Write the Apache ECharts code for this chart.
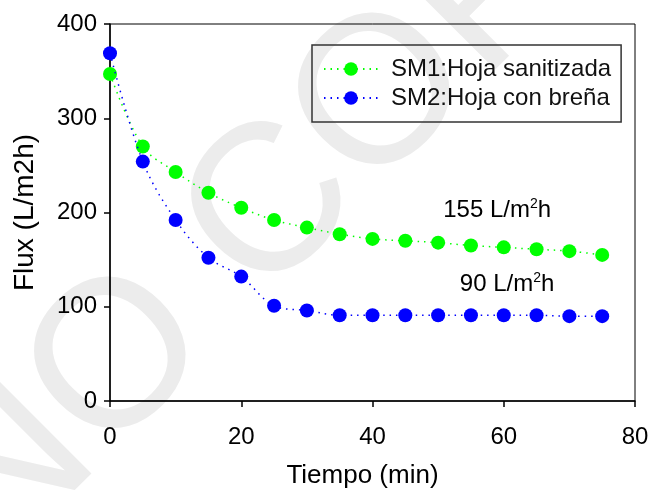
<!DOCTYPE html>
<html>
<head>
<meta charset="utf-8">
<script src="https://cdn.jsdelivr.net/npm/echarts@6/dist/echarts.min.js"></script>
<style>
  html, body { margin: 0; padding: 0; background: #fff; }
  #chart { width: 655px; height: 494px; }
</style>
</head>
<body>
<div id="chart"></div>
<script>
// Flux decline over time for two membrane leaf preparations
const tiempo = [0, 5, 10, 15, 20, 25, 30, 35, 40, 45, 50, 55, 60, 65, 70, 75];
const sm1 = [347, 270, 243, 221, 205, 192, 184, 177, 172, 170, 168, 165, 163, 161, 159, 155];
const sm2 = [369, 254, 192, 152, 132, 101, 96, 91, 91, 91, 91, 91, 91, 91, 90, 90];
const seriesNames = ['SM1:Hoja sanitizada', 'SM2:Hoja con breña'];
const xTicks = { min: 0, max: 80, interval: 20 };
const yTicks = { min: 0, max: 400, interval: 100 };
// steady-state flux notes: [x, y, value]
const plateauNotes = [[59, 202, 155], [60.5, 124, 90]];

const FONT = 'Liberation Sans, Arial, sans-serif';

function pairs(xs, ys) { return xs.map((x, i) => [x, ys[i]]); }

function noteLabel(v) {
  return {
    show: true,
    position: 'inside',
    formatter: '{a|' + v + ' L/m}{s|2}{a|h}',
    rich: {
      a: { fontFamily: FONT, fontSize: 24, color: '#000' },
      s: { fontFamily: FONT, fontSize: 14, color: '#000', padding: [0, 0, 12, 0] }
    }
  };
}

// Diagonal "NO COPY" stamp, laid out letter by letter along a 45° line
function stampLetters() {
  const size = 210;
  const adv = { N: 0.722, O: 0.778, C: 0.722, P: 0.667, Y: 0.667, ' ': 0.278 };
  const text = 'NO COPY';
  const dir = [Math.SQRT1_2, -Math.SQRT1_2];
  const startC = [273, 210];      // centre of the "C"
  const cIndex = text.indexOf('C');
  const els = [];
  let acc = 0;
  const centres = [];
  for (let i = 0; i < text.length; i++) {
    const w = adv[text[i]] * size;
    centres.push(acc + w / 2);
    acc += w;
  }
  for (let i = 0; i < text.length; i++) {
    if (text[i] === ' ') continue;
    const d = centres[i] - centres[cIndex];
    els.push({
      type: 'text',
      z: -10,
      silent: true,
      x: startC[0] + dir[0] * d,
      y: startC[1] + dir[1] * d,
      rotation: Math.PI / 4,
      style: {
        text: text[i],
        font: size + 'px ' + FONT,
        fill: '#ececec',
        textAlign: 'center',
        textVerticalAlign: 'middle'
      }
    });
  }
  return els;
}

const chart = echarts.init(document.getElementById('chart'), null, { renderer: 'canvas' });

const option = {
  backgroundColor: '#fff',
  animation: false,
  textStyle: { fontFamily: FONT },
  graphic: stampLetters(),
  grid: {
    left: 110, right: 20, top: 24, bottom: 90,
    show: true, borderColor: '#000', borderWidth: 1, backgroundColor: 'transparent'
  },
  legend: {
    orient: 'vertical',
    left: 312, top: 45,
    padding: [12, 10, 12, 11],
    borderColor: '#333', borderWidth: 1.5,
    itemWidth: 54, itemHeight: 17, itemGap: 5,
    textStyle: { fontFamily: FONT, fontSize: 24, lineHeight: 24, color: '#111', padding: [0, 0, 0, 8] },
    data: seriesNames
  },
  xAxis: {
    type: 'value',
    min: xTicks.min, max: xTicks.max, interval: xTicks.interval,
    name: 'Tiempo (min)', nameLocation: 'middle', nameGap: 62,
    nameTextStyle: { fontFamily: FONT, fontSize: 26, color: '#000', padding: [0, 20, 0, 0] },
    axisLine: { show: true, onZero: false, lineStyle: { color: '#000', width: 1.5 } },
    axisTick: { show: true, inside: false, length: 6, lineStyle: { color: '#000', width: 1.5 } },
    axisLabel: { fontFamily: FONT, fontSize: 24, color: '#000', margin: 24 },
    splitLine: { show: false }
  },
  yAxis: {
    type: 'value',
    min: yTicks.min, max: yTicks.max, interval: yTicks.interval,
    name: 'Flux (L/m2h)', nameLocation: 'middle', nameGap: 71,
    nameTextStyle: { fontFamily: FONT, fontSize: 28, color: '#000' },
    axisLine: { show: true, onZero: false, lineStyle: { color: '#000', width: 1.5 } },
    axisTick: { show: true, inside: false, length: 6, lineStyle: { color: '#000', width: 1.5 } },
    axisLabel: { fontFamily: FONT, fontSize: 24, color: '#000', margin: 13 },
    splitLine: { show: false }
  },
  series: [
    {
      name: seriesNames[0],
      type: 'line',
      data: pairs(tiempo, sm1),
      smooth: 0.35,
      symbol: 'circle',
      symbolSize: 14,
      itemStyle: { color: '#00ff00' },
      lineStyle: { color: '#00ff00', width: 1.5, type: [1.5, 5] },
      z: 3,
      markPoint: {
        symbol: 'circle', symbolSize: 1,
        itemStyle: { color: 'transparent' },
        data: [{ coord: [plateauNotes[0][0], plateauNotes[0][1]], label: noteLabel(plateauNotes[0][2]) }]
      }
    },
    {
      name: seriesNames[1],
      type: 'line',
      data: pairs(tiempo, sm2),
      smooth: 0.35,
      symbol: 'circle',
      symbolSize: 14,
      itemStyle: { color: '#0000ff' },
      lineStyle: { color: '#0000ff', width: 1.5, type: [1.5, 5] },
      z: 4,
      markPoint: {
        symbol: 'circle', symbolSize: 1,
        itemStyle: { color: 'transparent' },
        data: [{ coord: [plateauNotes[1][0], plateauNotes[1][1]], label: noteLabel(plateauNotes[1][2]) }]
      }
    }
  ]
};

chart.setOption(option);
</script>
</body>
</html>
